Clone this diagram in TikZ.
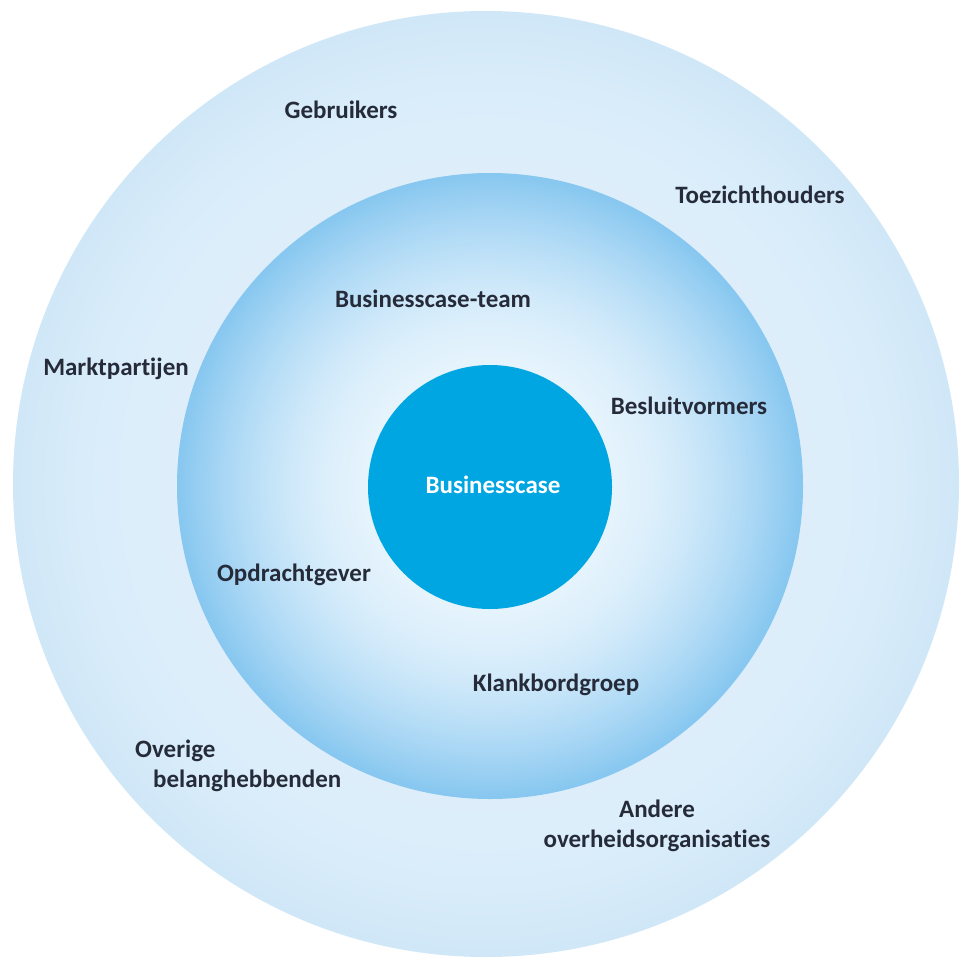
\documentclass[tikz,border=0pt]{standalone}
\usepackage{fontspec}
\setmainfont{Carlito}[Ligatures={NoCommon}]
\definecolor{txt}{HTML}{262B3A}
\definecolor{core}{HTML}{00A6E2}
\definecolor{outE}{rgb}{0.815,0.905,0.97}
\definecolor{outL}{rgb}{0.865,0.935,0.982}
\definecolor{midE}{rgb}{0.53,0.78,0.94}
\definecolor{midL}{rgb}{0.895,0.952,0.99}
\begin{document}
\begin{tikzpicture}[x=1pt,y=-1pt,
  lbl/.style={font=\fontsize{25}{30}\selectfont\bfseries, text=txt, inner sep=0pt, anchor=base},
  ring/.style={circle, draw=none, minimum size=#1, inner sep=0pt}]
\useasboundingbox (0,0) rectangle (959,960);
\fill[white] (0,0) rectangle (959,960);
% outer ring
\foreach \r in {473,471,...,313} {
  \pgfmathsetmacro\p{100*((\r-313)/160)^2}
  \fill[outE!\p!outL] (486,484) circle[radius=\r pt];
}
\node[ring=946pt] (outer) at (486,484) {};
% middle circle
\foreach \r in {313,311.5,...,122.5} {
  \pgfmathsetmacro\p{100*((\r-122)/191)^1.6}
  \fill[midE!\p!midL] (490,486) circle[radius=\r pt];
}
\node[ring=626pt] (middle) at (490,486) {};
\node[ring=244pt, fill=core] (core) at (490,487) {};
\node[lbl, text=white] (bc) at (493,493) {Businesscase};
\node[lbl] (gebr) at (341,119) {Gebruikers};
\node[lbl] (toez) at (760,204) {Toezichthouders};
\node[lbl] (bct) at (433,307) {Businesscase-team};
\node[lbl] (markt) at (116,375) {Marktpartijen};
\node[lbl] (besl) at (689,414) {Besluitvormers};
\node[lbl] (opdr) at (294,581) {Opdrachtgever};
\node[lbl] (klank) at (556,691) {Klankbordgroep};
\node[lbl, anchor=base west, align=left] (overig) at (135,787) {Overige\\\hspace*{18pt}belanghebbenden};
\node[lbl, align=center] (andere) at (657,847) {Andere\\overheidsorganisaties};
\end{tikzpicture}
\end{document}
